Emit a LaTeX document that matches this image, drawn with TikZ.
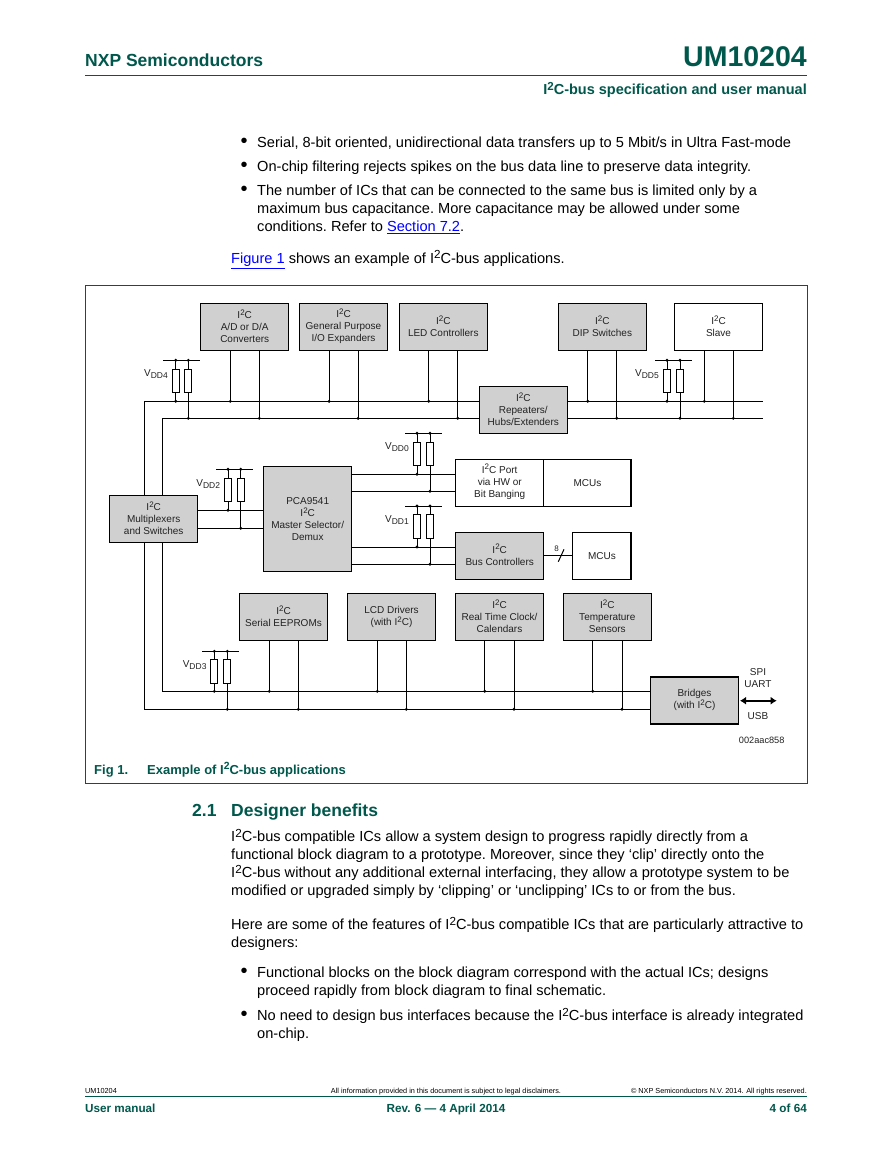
\documentclass[tikz,border=0pt]{standalone}
\usepackage{fontspec}
\setmainfont{Liberation Sans}
\usetikzlibrary{arrows.meta}
\definecolor{nxpgreen}{HTML}{00574B}
\definecolor{boxgrey}{HTML}{D0D0D0}
\definecolor{inkgrey}{HTML}{222222}
\newcommand{\iic}{I\raisebox{.32em}[0pt][0pt]{\scalebox{.8}{2}}C}
\newcommand{\vdd}[1]{V\raisebox{-.22em}{\scalebox{.85}{DD#1}}}
\tikzset{
  chip/.style={draw=black,fill=boxgrey,line width=1.4pt,minimum width=88pt,minimum height=47pt,
    inner sep=0pt,outer sep=0pt,align=center,text=inkgrey,font=\fontsize{10}{12}\selectfont},
  whitechip/.style={chip,fill=white},
  wire/.style={line width=1pt},
  res/.style={draw=black,line width=1pt,fill=white,minimum width=7pt,minimum height=23.5pt,inner sep=0pt,outer sep=0pt},
  tap/.style={circle,fill=black,inner sep=0pt,minimum size=3.2pt},
  small/.style={text=inkgrey,inner sep=0pt,font=\fontsize{10}{12}\selectfont,align=center},
  body/.style={inner sep=0pt,anchor=west,align=left,font=\frenchspacing\fontsize{14.6}{18}\selectfont},
  dotitem/.style={inner sep=0pt,font=\fontsize{20}{20}\selectfont},
  head/.style={inner sep=0pt,text=nxpgreen,font=\bfseries\fontsize{17.5}{20}\selectfont},
  foot/.style={inner sep=0pt,font=\fontsize{7.3}{9}\selectfont},
  footb/.style={inner sep=0pt,text=nxpgreen,font=\bfseries\fontsize{11.7}{13}\selectfont},
}
\begin{document}
\begin{tikzpicture}[x=1pt,y=-1pt]
    \useasboundingbox (0,0) rectangle (893,1155);

    % Page header
    \node[head,anchor=base west] (maker) at (85,67) {NXP Semiconductors};
    \node[head,anchor=base east,font=\bfseries\fontsize{28.5}{30}\selectfont] (docnum) at (807,67) {UM10204};
    \coordinate (headl) at (85,75);
    \coordinate (headr) at (807,75);
    \draw[nxpgreen,line width=.8pt] (headl) -- (headr);
    \node[inner sep=0pt,anchor=base east,text=nxpgreen,font=\bfseries\fontsize{14.5}{18}\selectfont] (doctitle) at (807,95) {\iic-bus specification and user manual};

    % Text above the figure
    \node[dotitem] (b1) at (244,143) {•};
    \node[body] (t1) at (257,143.5) {Serial, 8-bit oriented, unidirectional data transfers up to 5 Mbit/s in Ultra Fast-mode};
    \node[dotitem] (b2) at (244,167) {•};
    \node[body] (t2) at (257,167.5) {On-chip filtering rejects spikes on the bus data line to preserve data integrity.};
    \node[dotitem] (b3) at (244,191) {•};
    \node[body] (t3) at (257,209.5) {The number of ICs that can be connected to the same bus is limited only by a\\maximum bus capacitance. More capacitance may be allowed under some\\conditions. Refer to \textcolor{blue}{\underline{Section 7.2}}.};
    \node[body] (t4) at (231,260.5) {\textcolor{blue}{\underline{Figure 1}} shows an example of \iic-bus applications.};

    % Figure frame
    \draw[nxpgreen,line width=1pt] (85.5,285.5) rectangle (807.5,783.5);

    % Top row
    \node[chip] (adc) at (244.7,326.8) {\iic\\A/D or D/A\\Converters};
    \node[chip] (expander) at (343.5,326.8) {\iic\\General Purpose\\I/O Expanders};
    \node[chip] (led) at (443.3,326.8) {\iic\\LED Controllers};
    \node[chip] (dip) at (602.3,326.8) {\iic\\DIP Switches};
    \node[whitechip] (slave) at (718.5,326.8) {\iic\\Slave};
    \node[chip] (repeater) at (523.3,410) {\iic\\Repeaters/\\Hubs/Extenders};

    % Middle row
    \node[chip] (mux) at (153.7,519) {\iic\\Multiplexers\\and Switches};
    \node[chip,minimum height=104.6pt] (master) at (307.7,519) {PCA9541\\\iic\\Master Selector/\\Demux};
    \node[whitechip,minimum width=175.3pt] (port) at (543.4,482.7) {};
    \node[small] (portl) at (499.7,482.7) {\iic\ Port\\via HW or\\Bit Banging};
    \node[small] (portm) at (587.4,482.7) {MCUs};
    \node[chip] (busctrl) at (499.7,555.7) {\iic\\Bus Controllers};
    \node[whitechip,minimum width=58.3pt] (mcu) at (601.9,555.7) {MCUs};

    % Bottom row
    \node[chip] (eeprom) at (283.5,617) {\iic\\Serial EEPROMs};
    \node[chip] (lcd) at (391.5,617) {LCD Drivers\\(with \iic)};
    \node[chip] (rtc) at (499.5,617) {\iic\\Real Time Clock/\\Calendars};
    \node[chip] (temp) at (607.3,617) {\iic\\Temperature\\Sensors};
    \node[chip] (bridge) at (694.5,700.3) {Bridges\\(with \iic)};

    % Buses
    \coordinate (sdatop) at (144.3,401.3);
    \coordinate (scltop) at (162.7,418.3);
    \coordinate (sdaend) at (762.5,401.3);
    \coordinate (sclend) at (762.5,418.3);
    \coordinate (sdalow) at (144.3,709.3);
    \coordinate (scllow) at (162.7,691.3);
    \draw[wire] (mux.north -| sdatop) -- (sdatop) -- (repeater.west |- sdatop);
    \draw[wire] (mux.north -| scltop) -- (scltop) -- (repeater.west |- scltop);
    \draw[wire] (repeater.east |- sdatop) -- (sdaend);
    \draw[wire] (repeater.east |- scltop) -- (sclend);
    \draw[wire] (mux.south -| sdalow) -- (sdalow) -- (bridge.west |- sdalow);
    \draw[wire] (mux.south -| scllow) -- (scllow) -- (bridge.west |- scllow);

    % Drops to the top buses
    \draw[wire] ([xshift=-14.4pt]adc.south) -- ([xshift=-14.4pt]adc.south |- sdatop) node[tap]{};
    \draw[wire] ([xshift=14.6pt]adc.south) -- ([xshift=14.6pt]adc.south |- scltop) node[tap]{};
    \draw[wire] ([xshift=-14.4pt]expander.south) -- ([xshift=-14.4pt]expander.south |- sdatop) node[tap]{};
    \draw[wire] ([xshift=14.6pt]expander.south) -- ([xshift=14.6pt]expander.south |- scltop) node[tap]{};
    \draw[wire] ([xshift=-14.6pt]led.south) -- ([xshift=-14.6pt]led.south |- sdatop) node[tap]{};
    \draw[wire] ([xshift=14.4pt]led.south) -- ([xshift=14.4pt]led.south |- scltop) node[tap]{};
    \draw[wire] ([xshift=-14.6pt]dip.south) -- ([xshift=-14.6pt]dip.south |- sdatop) node[tap]{};
    \draw[wire] ([xshift=14.4pt]dip.south) -- ([xshift=14.4pt]dip.south |- scltop) node[tap]{};
    \draw[wire] ([xshift=-14.2pt]slave.south) -- ([xshift=-14.2pt]slave.south |- sdatop) node[tap]{};
    \draw[wire] ([xshift=14.8pt]slave.south) -- ([xshift=14.8pt]slave.south |- scltop) node[tap]{};

    % Drops to the bottom buses
    \draw[wire] ([xshift=-14.2pt]eeprom.south) -- ([xshift=-14.2pt]eeprom.south |- scllow) node[tap]{};
    \draw[wire] ([xshift=14.8pt]eeprom.south) -- ([xshift=14.8pt]eeprom.south |- sdalow) node[tap]{};
    \draw[wire] ([xshift=-14.2pt]lcd.south) -- ([xshift=-14.2pt]lcd.south |- scllow) node[tap]{};
    \draw[wire] ([xshift=14.8pt]lcd.south) -- ([xshift=14.8pt]lcd.south |- sdalow) node[tap]{};
    \draw[wire] ([xshift=-14.8pt]rtc.south) -- ([xshift=-14.8pt]rtc.south |- scllow) node[tap]{};
    \draw[wire] ([xshift=14.5pt]rtc.south) -- ([xshift=14.5pt]rtc.south |- sdalow) node[tap]{};
    \draw[wire] ([xshift=-14.6pt]temp.south) -- ([xshift=-14.6pt]temp.south |- scllow) node[tap]{};
    \draw[wire] ([xshift=14.7pt]temp.south) -- ([xshift=14.7pt]temp.south |- sdalow) node[tap]{};

    % Master selector wiring
    \coordinate (mux1) at (228,510.3);
    \coordinate (mux2) at (240.7,528.3);
    \coordinate (port1) at (417,474.3);
    \coordinate (port2) at (430,491.3);
    \coordinate (ctrl1) at (417,547);
    \coordinate (ctrl2) at (430,564.3);
    \draw[wire] (mux.east |- mux1) -- (master.west |- mux1);
    \draw[wire] (mux.east |- mux2) -- (master.west |- mux2);
    \draw[wire] (master.east |- port1) -- (port.west |- port1);
    \draw[wire] (master.east |- port2) -- (port.west |- port2);
    \draw[wire] (master.east |- ctrl1) -- (busctrl.west |- ctrl1);
    \draw[wire] (master.east |- ctrl2) -- (busctrl.west |- ctrl2);

    % Port box divider and the 8 bit link
    \coordinate (split) at (543.7,482.7);
    \draw[wire] (port.north -| split) -- (port.south -| split);
    \draw[wire] (busctrl) -- (mcu);
    \coordinate (slash) at (558.3,561.7);
    \draw[wire] (slash) -- ++(5.7,-12.4);
    \node[small,font=\fontsize{8}{9}\selectfont] (eight) at (556.7,548.7) {8};

    % VDD4
    \node[res] (r4a) at (175.7,381) {};
    \node[res] (r4b) at (188.3,381) {};
    \coordinate (rail4) at (163.3,360.3);
    \draw[wire] (rail4) -- ++(36.4,0);
    \draw[wire] (r4a.north |- rail4) node[tap]{} -- (r4a);
    \draw[wire] (r4b.north |- rail4) node[tap]{} -- (r4b);
    \draw[wire] (r4a) -- (r4a.south |- sdatop) node[tap]{};
    \draw[wire] (r4b) -- (r4b.south |- scltop) node[tap]{};
    \node[small,anchor=base east] (v4) at (168,376.7) {\vdd{4}};

    % VDD5
    \node[res] (r5a) at (667,381) {};
    \node[res] (r5b) at (680,381) {};
    \coordinate (rail5) at (655,360.3);
    \draw[wire] (rail5) -- ++(37,0);
    \draw[wire] (r5a.north |- rail5) node[tap]{} -- (r5a);
    \draw[wire] (r5b.north |- rail5) node[tap]{} -- (r5b);
    \draw[wire] (r5a) -- (r5a.south |- sdatop) node[tap]{};
    \draw[wire] (r5b) -- (r5b.south |- scltop) node[tap]{};
    \node[small,anchor=base east] (v5) at (659,376.7) {\vdd{5}};

    % VDD0
    \node[res] (r0a) at (417,453.8) {};
    \node[res] (r0b) at (430,453.8) {};
    \coordinate (rail0) at (405,433.3);
    \draw[wire] (rail0) -- ++(36.7,0);
    \draw[wire] (r0a.north |- rail0) node[tap]{} -- (r0a);
    \draw[wire] (r0b.north |- rail0) node[tap]{} -- (r0b);
    \draw[wire] (r0a) -- (port1) node[tap]{};
    \draw[wire] (r0b) -- (port2) node[tap]{};
    \node[small,anchor=base east] (v0) at (409,449.7) {\vdd{0}};

    % VDD1
    \node[res] (r1a) at (417,526.3) {};
    \node[res] (r1b) at (430,526.3) {};
    \coordinate (rail1) at (405,506);
    \draw[wire] (rail1) -- ++(36.7,0);
    \draw[wire] (r1a.north |- rail1) node[tap]{} -- (r1a);
    \draw[wire] (r1b.north |- rail1) node[tap]{} -- (r1b);
    \draw[wire] (r1a) -- (ctrl1) node[tap]{};
    \draw[wire] (r1b) -- (ctrl2) node[tap]{};
    \node[small,anchor=base east] (v1) at (409,522.3) {\vdd{1}};

    % VDD2
    \node[res] (r2a) at (228,489.8) {};
    \node[res] (r2b) at (240.7,489.8) {};
    \coordinate (rail2) at (216.3,469.3);
    \draw[wire] (rail2) -- ++(36.4,0);
    \draw[wire] (r2a.north |- rail2) node[tap]{} -- (r2a);
    \draw[wire] (r2b.north |- rail2) node[tap]{} -- (r2b);
    \draw[wire] (r2a) -- (mux1) node[tap]{};
    \draw[wire] (r2b) -- (mux2) node[tap]{};
    \node[small,anchor=base east] (v2) at (220.3,486.7) {\vdd{2}};

    % VDD3
    \node[res] (r3a) at (214.3,671.3) {};
    \node[res] (r3b) at (227.3,671.3) {};
    \coordinate (rail3) at (202.3,651.3);
    \draw[wire] (rail3) -- ++(36.7,0);
    \draw[wire] (r3a.north |- rail3) node[tap]{} -- (r3a);
    \draw[wire] (r3b.north |- rail3) node[tap]{} -- (r3b);
    \draw[wire] (r3a) -- (r3a.south |- scllow) node[tap]{};
    \draw[wire] (r3b) -- (r3b.south |- sdalow) node[tap]{};
    \node[small,anchor=base east] (v3) at (206.7,667) {\vdd{3}};

    % Bridge side
    \coordinate (ifa) at (740,700.7);
    \coordinate (ifb) at (776.7,700.7);
    \draw[{Latex[length=6pt,width=8pt]}-{Latex[length=6pt,width=8pt]},line width=2pt] (ifa) -- (ifb);
    \node[small] (spi) at (758,678) {SPI\\UART};
    \node[small] (usb) at (758,715.7) {USB};
    \node[small,font=\fontsize{9.2}{11}\selectfont] (code) at (761.7,740.7) {002aac858};

    % Caption
    \node[inner sep=0pt,anchor=base west,text=nxpgreen,font=\bfseries\fontsize{13}{15}\selectfont] (figno) at (94,774) {Fig 1.};
    \node[inner sep=0pt,anchor=base west,text=nxpgreen,font=\bfseries\fontsize{13}{15}\selectfont] (figcap) at (147,774) {Example of \iic-bus applications};

    % Text below the figure
    \node[head,anchor=base west] (secno) at (192,816) {2.1};
    \node[head,anchor=base west] (sechead) at (231,816) {Designer benefits};
    \node[body] (p1) at (231,865) {\iic-bus compatible ICs allow a system design to progress rapidly directly from a\\functional block diagram to a prototype. Moreover, since they ‘clip’ directly onto the\\\iic-bus without any additional external interfacing, they allow a prototype system to be\\modified or upgraded simply by ‘clipping’ or ‘unclipping’ ICs to or from the bus.};
    \node[body] (p2) at (231,935) {Here are some of the features of \iic-bus compatible ICs that are particularly attractive to\\designers:};
    \node[dotitem] (b4) at (244,973) {•};
    \node[body] (p3) at (257,983) {Functional blocks on the block diagram correspond with the actual ICs; designs\\proceed rapidly from block diagram to final schematic.};
    \node[dotitem] (b5) at (244,1016) {•};
    \node[body] (p4) at (257,1026) {No need to design bus interfaces because the \iic-bus interface is already integrated\\on-chip.};

    % Page footer
    \node[foot,anchor=base west] (f1) at (85,1093) {UM10204};
    \node[foot,anchor=base] (f2) at (446,1093) {All information provided in this document is subject to legal disclaimers.};
    \node[foot,anchor=base east] (f3) at (807,1093) {© NXP Semiconductors N.V. 2014. All rights reserved.};
    \coordinate (footl) at (85,1096);
    \coordinate (footr) at (807,1096);
    \draw[nxpgreen,line width=.8pt] (footl) -- (footr);
    \node[footb,anchor=base west] (f4) at (85,1112) {User manual};
    \node[footb,anchor=base] (f5) at (446,1112) {Rev. 6 — 4 April 2014};
    \node[footb,anchor=base east] (f6) at (807,1112) {4 of 64};
  \end{tikzpicture}
\end{document}
